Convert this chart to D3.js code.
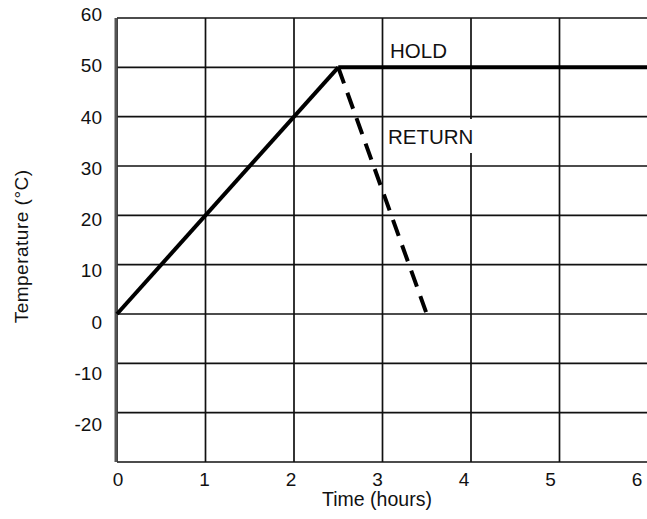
<!DOCTYPE html>
<html>
<head>
<meta charset="utf-8">
<script src="https://cdn.jsdelivr.net/npm/d3@7"></script>
<style>
  body { margin: 0; background: #fff; }
  text { font-family: "Liberation Sans", Arial, sans-serif; fill: #111; }
</style>
</head>
<body>
<script>
// chart data
var xTicks = [0, 1, 2, 3, 4, 5, 6];
var yTicks = [-20, -10, 0, 10, 20, 30, 40, 50, 60];
var rampTime = [0, 2.5];
var rampTemp = [0, 50];
var holdTime = [2.5, 6];
var holdTemp = [50, 50];
var returnTime = [2.5, 3.5];
var returnTemp = [50, 0];

var svgWidth = 647;
var svgHeight = 519;

var margin = { top: 18, right: -1, bottom: 57, left: 117 };
var width = svgWidth - margin.left - margin.right;
var height = svgHeight - margin.top - margin.bottom;

var svg = d3.select("body")
    .append("svg")
    .attr("width", svgWidth)
    .attr("height", svgHeight);

var chartGroup = svg.append("g")
    .attr("transform", `translate(${margin.left}, ${margin.top})`);

var xScale = d3.scaleLinear().domain([0, 6]).range([0, width]);
var yScale = d3.scaleLinear().domain([-30, 60]).range([height, 0]);

// the tick labels in the original sit a little off the grid
var xLabelScale = d3.scaleLinear().domain([0, 6]).range([1, 520]);
var yLabelScale = d3.scaleLinear().domain([-20, 60]).range([406, -4]);

// grid
chartGroup.selectAll(".vgrid")
    .data(xTicks)
    .enter()
    .append("line")
    .attr("x1", d => xScale(d))
    .attr("x2", d => xScale(d))
    .attr("y1", 0)
    .attr("y2", height)
    .attr("stroke", "#111")
    .attr("stroke-width", 1.7);

chartGroup.selectAll(".hgrid")
    .data(yTicks)
    .enter()
    .append("line")
    .attr("x1", 0)
    .attr("x2", width)
    .attr("y1", d => yScale(d))
    .attr("y2", d => yScale(d))
    .attr("stroke", "#111")
    .attr("stroke-width", 1.7);

// bottom border + left border
chartGroup.append("line")
    .attr("x1", 0).attr("x2", width)
    .attr("y1", height).attr("y2", height)
    .attr("stroke", "#111").attr("stroke-width", 1.7);
chartGroup.append("line")
    .attr("x1", -1).attr("x2", -1)
    .attr("y1", 0).attr("y2", height)
    .attr("stroke", "#555").attr("stroke-width", 3);

// tick labels
chartGroup.selectAll(".xlabel")
    .data(xTicks)
    .enter()
    .append("text")
    .attr("x", d => xLabelScale(d))
    .attr("y", height + 24)
    .attr("text-anchor", "middle")
    .attr("font-size", "19px")
    .text(d => d);

chartGroup.selectAll(".ylabel")
    .data(yTicks)
    .enter()
    .append("text")
    .attr("x", -15)
    .attr("y", d => yLabelScale(d) + 7)
    .attr("text-anchor", "end")
    .attr("font-size", "19px")
    .text(d => d);

// axis titles
chartGroup.append("text")
    .attr("x", 260)
    .attr("y", height + 44)
    .attr("text-anchor", "middle")
    .attr("font-size", "19.5px")
    .text("Time (hours)");

chartGroup.append("text")
    .attr("transform", `translate(-89, ${yScale(13.7)}) rotate(-90)`)
    .attr("text-anchor", "middle")
    .attr("font-size", "19px")
    .attr("letter-spacing", "0.5px")
    .text("Temperature (°C)");

// lines
var line = d3.line()
    .x(d => xScale(d[0]))
    .y(d => yScale(d[1]));

chartGroup.append("path")
    .datum(d3.zip(rampTime, rampTemp))
    .attr("d", line)
    .attr("fill", "none")
    .attr("stroke", "#000")
    .attr("stroke-width", 4);

chartGroup.append("path")
    .datum(d3.zip(holdTime, holdTemp))
    .attr("d", line)
    .attr("fill", "none")
    .attr("stroke", "#000")
    .attr("stroke-width", 4);

chartGroup.append("path")
    .datum(d3.zip(returnTime, returnTemp))
    .attr("d", line)
    .attr("fill", "none")
    .attr("stroke", "#000")
    .attr("stroke-width", 4)
    .attr("stroke-dasharray", "17,10");

// labels on the curves
chartGroup.append("rect")
    .attr("x", 268)
    .attr("y", 101)
    .attr("width", 93)
    .attr("height", 34)
    .attr("fill", "#fff");

chartGroup.append("text")
    .attr("x", 273)
    .attr("y", 40)
    .attr("font-size", "20.5px")
    .text("HOLD");

chartGroup.append("text")
    .attr("x", 271)
    .attr("y", 126)
    .attr("font-size", "20.5px")
    .text("RETURN");
</script>
</body>
</html>
